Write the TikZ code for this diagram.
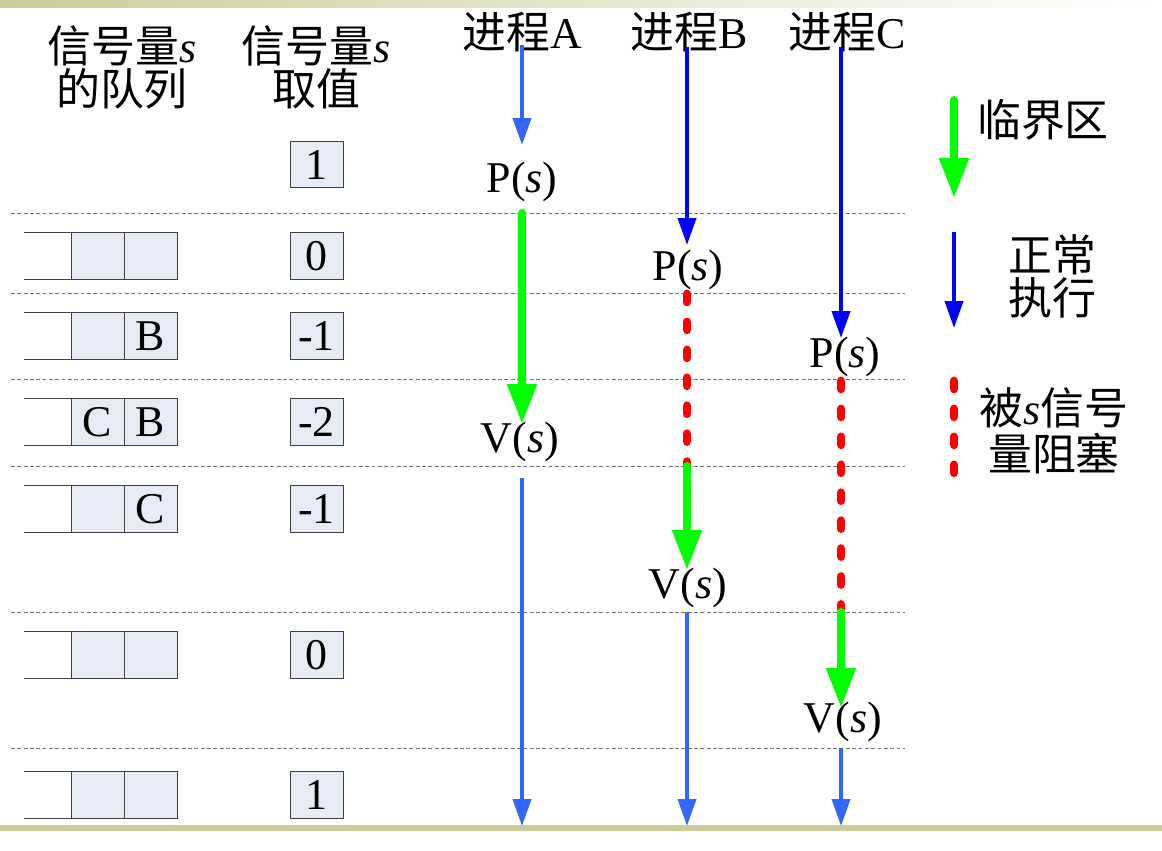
\documentclass[tikz,border=0pt]{standalone}
\usepackage{fontspec}
\setmainfont{Liberation Serif}
\newfontfamily\cjk{Noto Sans CJK SC}
\usetikzlibrary{arrows.meta,positioning}

\definecolor{critgreen}{RGB}{0,255,0}
\definecolor{runblue}{RGB}{0,0,255}
\definecolor{runlight}{RGB}{51,102,255}
\definecolor{waitred}{RGB}{255,0,0}
\definecolor{cellfill}{RGB}{230,235,245}
\definecolor{barolive}{RGB}{204,204,153}

\newcommand\bigtxt{\fontsize{25}{24.5}\selectfont}
\newcommand\sv{{\normalfont\itshape s}}

\tikzstyle{cell} = [rectangle, draw=black!75, fill=cellfill, minimum width=1.06cm, minimum height=0.93cm, inner sep=0pt, font=\bigtxt]
\tikzstyle{label} = [inner sep=0pt, font=\bigtxt, align=center]
\tikzstyle{critical} = [draw=critgreen, line width=4.6pt, line cap=round, -{Triangle[length=0.8cm,width=0.56cm]}]
\tikzstyle{running} = [draw=runblue, line width=2.2pt, -{Triangle[length=0.54cm,width=0.36cm]}]
\tikzstyle{blocked} = [draw=waitred, line width=5pt, line cap=round, dash pattern=on 4.5pt off 11.4pt]
\tikzstyle{rowsep} = [draw=black!55, line width=0.5pt, dash pattern=on 2.2pt off 1.4pt]

\begin{document}
\begin{tikzpicture}[x=0.02cm, y=-0.02cm]
        \useasboundingbox (0,0) rectangle (1162,850);
        % frame bars
        \shade[left color=barolive, right color=white] (0,0) rectangle (1162,7);
        \fill[barolive] (0,825) rectangle (1162,831);
        % row separators
        \foreach \y in {213,293,379,466,612,748}
            \draw[rowsep] (11,\y) -- (905,\y);
        % column headings
        \node (hq) at (122,67) [label] {\cjk 信号量\sv\\\cjk 的队列};
        \node (hv) at (316,67) [label] {\cjk 信号量\sv\\\cjk 取值};
        \node (hA) at (522,32) [label] {\cjk 进程\normalfont A};
        \node (hB) at (689,32) [label] {\cjk 进程\normalfont B};
        \node (hC) at (847,32) [label] {\cjk 进程\normalfont C};
        % semaphore value and queue per row
        \node (v0) at (316.5,164.5) [cell] {1};
        \foreach \y/\v/\m/\r in {256/0//, 336/-1//B, 422/-2/C/B, 509/-1//C, 655/0//, 795/1//} {
            \node (v\y) at (316.5,\y) [cell] {\v};
            \node (m\y) at (97.5,\y) [cell] {\m};
            \node (r\y) at (150.5,\y) [cell] {\r};
            \draw[black!75] (m\y.north west) -- ++(-47,0);
            \draw[black!75] (m\y.south west) -- ++(-47,0);
        }
        % process A
        \coordinate (a0) at (522,45);  \coordinate (a1) at (522,145);
        \coordinate (a2) at (522,213); \coordinate (a3) at (522,424);
        \coordinate (a4) at (522,478); \coordinate (a5) at (522,826);
        \node (pA) at (522,182) [label] {P(\sv)};
        \node (vA) at (520,442) [label] {V(\sv)};
        \draw[running, draw=runlight] (a0) -- (a1);
        \draw[critical] (a2) -- (a3);
        \draw[running, draw=runlight] (a4) -- (a5);
        % process B
        \coordinate (b0) at (687,47);  \coordinate (b1) at (687,245);
        \coordinate (b2) at (687,294); \coordinate (b3) at (687,466);
        \coordinate (b4) at (687,570); \coordinate (b5) at (687,612);
        \coordinate (b6) at (687,826);
        \node (pB) at (688,270) [label] {P(\sv)};
        \node (vB) at (688,588) [label] {V(\sv)};
        \draw[running] (b0) -- (b1);
        \draw[blocked] (b2) -- (b3);
        \draw[critical] (b3) -- (b4);
        \draw[running, draw=runlight] (b5) -- (b6);
        % process C
        \coordinate (c0) at (841,47);  \coordinate (c1) at (841,338);
        \coordinate (c2) at (841,381); \coordinate (c3) at (841,609);
        \coordinate (c4) at (841,612); \coordinate (c5) at (841,708);
        \coordinate (c6) at (841,748); \coordinate (c7) at (841,826);
        \node (pC) at (845,357) [label] {P(\sv)};
        \node (vC) at (843,722) [label] {V(\sv)};
        \draw[running] (c0) -- (c1);
        \draw[blocked] (c2) -- (c3);
        \draw[critical] (c4) -- (c5);
        \draw[running, draw=runlight] (c6) -- (c7);
        % legend
        \coordinate (g0) at (954,100); \coordinate (g1) at (954,198);
        \coordinate (n0) at (954,232); \coordinate (n1) at (954,328);
        \coordinate (w0) at (954,381); \coordinate (w1) at (954,478);
        \draw[critical] (g0) -- (g1);
        \draw[running] (n0) -- (n1);
        \draw[blocked] (w0) -- (w1);
        \node (lg) at (1043,120) [label] {\cjk 临界区};
        \node (ln) at (1052,276) [label] {\cjk 正常\\\cjk 执行};
        \node (lw) at (1054,431) [label, font=\fontsize{25}{26}\selectfont] {\cjk 被\sv\cjk 信号\\\cjk 量阻塞};
    \end{tikzpicture}
\end{document}
